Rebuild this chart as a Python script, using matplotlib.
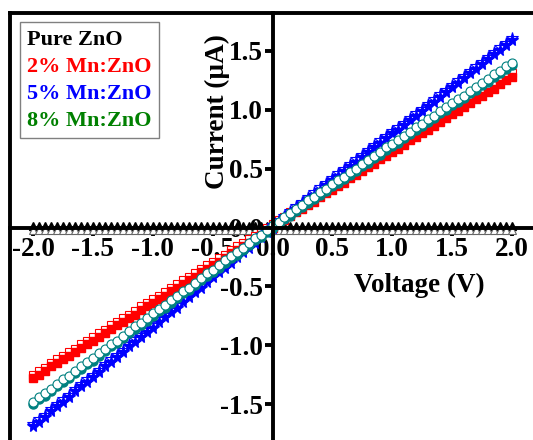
import numpy as np
import matplotlib
matplotlib.use("Agg")
import matplotlib.pyplot as plt
from matplotlib.lines import Line2D

plt.rcParams['font.family'] = ['Liberation Serif', 'DejaVu Serif']
plt.rcParams['font.weight'] = 'bold'
plt.rcParams['axes.unicode_minus'] = False

# voltage sweep, -2.0 V to 2.0 V in 0.05 V steps
voltage = np.round(np.linspace(-2.0, 2.0, 81), 2)

# current (uA), filled markers = forward sweep, open markers = reverse sweep
pure_fwd = [0.01, 0.01, 0.01, 0.01, 0.01, 0.01, 0.01, 0.01, 0.01,
            0.01, 0.01, 0.01, 0.01, 0.01, 0.01, 0.01, 0.01, 0.01,
            0.01, 0.01, 0.01, 0.01, 0.01, 0.01, 0.01, 0.01, 0.01,
            0.01, 0.01, 0.01, 0.01, 0.01, 0.01, 0.01, 0.01, 0.01,
            0.01, 0.01, 0.01, 0.01, 0.01, 0.01, 0.01, 0.01, 0.01,
            0.01, 0.01, 0.01, 0.01, 0.01, 0.01, 0.01, 0.01, 0.01,
            0.01, 0.01, 0.01, 0.01, 0.01, 0.01, 0.01, 0.01, 0.01,
            0.01, 0.01, 0.01, 0.01, 0.01, 0.01, 0.01, 0.01, 0.01,
            0.01, 0.01, 0.01, 0.01, 0.01, 0.01, 0.01, 0.01, 0.01]
pure_rev = [-0.02, -0.02, -0.02, -0.02, -0.02, -0.02, -0.02, -0.02, -0.02,
            -0.02, -0.02, -0.02, -0.02, -0.02, -0.02, -0.02, -0.02, -0.02,
            -0.02, -0.02, -0.02, -0.02, -0.02, -0.02, -0.02, -0.02, -0.02,
            -0.02, -0.02, -0.02, -0.02, -0.02, -0.02, -0.02, -0.02, -0.02,
            -0.02, -0.02, -0.02, -0.02, -0.02, -0.02, -0.02, -0.02, -0.02,
            -0.02, -0.02, -0.02, -0.02, -0.02, -0.02, -0.02, -0.02, -0.02,
            -0.02, -0.02, -0.02, -0.02, -0.02, -0.02, -0.02, -0.02, -0.02,
            -0.02, -0.02, -0.02, -0.02, -0.02, -0.02, -0.02, -0.02, -0.02,
            -0.02, -0.02, -0.02, -0.02, -0.02, -0.02, -0.02, -0.02, -0.02]

mn2_fwd = [-1.28, -1.25, -1.22, -1.18, -1.15, -1.12, -1.09, -1.06, -1.02, -0.99,
           -0.96, -0.93, -0.90, -0.86, -0.83, -0.80, -0.77, -0.74, -0.70, -0.67,
           -0.64, -0.61, -0.58, -0.54, -0.51, -0.48, -0.45, -0.42, -0.38, -0.35,
           -0.32, -0.29, -0.26, -0.22, -0.19, -0.16, -0.13, -0.10, -0.06, -0.03,
           0.00,
           0.03, 0.06, 0.10, 0.13, 0.16, 0.19, 0.22, 0.26, 0.29, 0.32,
           0.35, 0.38, 0.42, 0.45, 0.48, 0.51, 0.54, 0.58, 0.61, 0.64,
           0.67, 0.70, 0.74, 0.77, 0.80, 0.83, 0.86, 0.90, 0.93, 0.96,
           0.99, 1.02, 1.06, 1.09, 1.12, 1.15, 1.18, 1.22, 1.25, 1.28]
mn2_rev = [-1.25, -1.22, -1.19, -1.15, -1.12, -1.09, -1.06, -1.03, -0.99, -0.96,
           -0.93, -0.90, -0.87, -0.83, -0.80, -0.77, -0.74, -0.71, -0.67, -0.64,
           -0.61, -0.58, -0.55, -0.51, -0.48, -0.45, -0.42, -0.39, -0.35, -0.32,
           -0.29, -0.26, -0.23, -0.19, -0.16, -0.13, -0.10, -0.07, -0.03, 0.00,
           0.03,
           0.06, 0.09, 0.13, 0.16, 0.19, 0.22, 0.25, 0.29, 0.32, 0.35,
           0.38, 0.41, 0.45, 0.48, 0.51, 0.54, 0.57, 0.61, 0.64, 0.67,
           0.70, 0.73, 0.77, 0.80, 0.83, 0.86, 0.89, 0.93, 0.96, 0.99,
           1.02, 1.05, 1.09, 1.12, 1.15, 1.18, 1.21, 1.25, 1.28, 1.31]

mn5_fwd = [-1.69, -1.65, -1.61, -1.56, -1.52, -1.48, -1.44, -1.39, -1.35, -1.31,
           -1.27, -1.23, -1.18, -1.14, -1.10, -1.06, -1.01, -0.97, -0.93, -0.89,
           -0.85, -0.80, -0.76, -0.72, -0.68, -0.63, -0.59, -0.55, -0.51, -0.46,
           -0.42, -0.38, -0.34, -0.30, -0.25, -0.21, -0.17, -0.13, -0.08, -0.04,
           0.00,
           0.04, 0.08, 0.12, 0.16, 0.20, 0.24, 0.28, 0.32, 0.36, 0.40,
           0.44, 0.48, 0.52, 0.56, 0.60, 0.64, 0.68, 0.72, 0.76, 0.80,
           0.83, 0.87, 0.91, 0.95, 0.99, 1.03, 1.07, 1.11, 1.15, 1.19,
           1.23, 1.27, 1.31, 1.35, 1.39, 1.43, 1.47, 1.51, 1.55, 1.59]
mn5_rev = [-1.67, -1.63, -1.59, -1.54, -1.50, -1.46, -1.42, -1.37, -1.33, -1.29,
           -1.25, -1.21, -1.16, -1.12, -1.08, -1.04, -0.99, -0.95, -0.91, -0.87,
           -0.83, -0.78, -0.74, -0.70, -0.66, -0.61, -0.57, -0.53, -0.49, -0.44,
           -0.40, -0.36, -0.32, -0.28, -0.23, -0.19, -0.15, -0.11, -0.06, -0.02,
           0.02,
           0.06, 0.10, 0.14, 0.18, 0.22, 0.26, 0.30, 0.34, 0.38, 0.42,
           0.46, 0.50, 0.54, 0.58, 0.62, 0.66, 0.70, 0.74, 0.78, 0.82,
           0.85, 0.89, 0.93, 0.97, 1.01, 1.05, 1.09, 1.13, 1.17, 1.21,
           1.25, 1.29, 1.33, 1.37, 1.41, 1.45, 1.49, 1.53, 1.57, 1.61]

mn8_fwd = [-1.50, -1.46, -1.43, -1.39, -1.35, -1.31, -1.28, -1.24, -1.20, -1.16,
           -1.13, -1.09, -1.05, -1.01, -0.98, -0.94, -0.90, -0.86, -0.83, -0.79,
           -0.75, -0.71, -0.68, -0.64, -0.60, -0.56, -0.53, -0.49, -0.45, -0.41,
           -0.38, -0.34, -0.30, -0.26, -0.23, -0.19, -0.15, -0.11, -0.08, -0.04,
           0.00,
           0.03, 0.07, 0.10, 0.14, 0.17, 0.21, 0.24, 0.28, 0.31, 0.35,
           0.38, 0.41, 0.45, 0.48, 0.52, 0.55, 0.59, 0.62, 0.66, 0.69,
           0.72, 0.76, 0.79, 0.83, 0.86, 0.90, 0.93, 0.97, 1.00, 1.04,
           1.07, 1.10, 1.14, 1.17, 1.21, 1.24, 1.28, 1.31, 1.35, 1.38]
mn8_rev = [-1.48, -1.44, -1.41, -1.37, -1.33, -1.29, -1.26, -1.22, -1.18, -1.14,
           -1.11, -1.07, -1.03, -0.99, -0.96, -0.92, -0.88, -0.84, -0.81, -0.77,
           -0.73, -0.69, -0.66, -0.62, -0.58, -0.54, -0.51, -0.47, -0.43, -0.39,
           -0.36, -0.32, -0.28, -0.24, -0.21, -0.17, -0.13, -0.09, -0.06, -0.02,
           0.02,
           0.05, 0.09, 0.12, 0.16, 0.19, 0.23, 0.26, 0.30, 0.33, 0.37,
           0.40, 0.43, 0.47, 0.50, 0.54, 0.57, 0.61, 0.64, 0.68, 0.71,
           0.74, 0.78, 0.81, 0.85, 0.88, 0.92, 0.95, 0.99, 1.02, 1.06,
           1.09, 1.12, 1.16, 1.19, 1.23, 1.26, 1.30, 1.33, 1.37, 1.40]

legend_labels = ["Pure ZnO", "2% Mn:ZnO", "5% Mn:ZnO", "8% Mn:ZnO"]
legend_colors = ["black", "#ff0000", "#0000ff", "#008000"]

x_ticks = [-2.0, -1.5, -1.0, -0.5, 0.0, 0.5, 1.0, 1.5, 2.0]
y_ticks = [-1.5, -1.0, -0.5, 0.0, 0.5, 1.0, 1.5]

fig = plt.figure(figsize=(5.33, 4.4), dpi=100)
ax = fig.add_axes([10 / 533, 0.0, 523 / 533, 427 / 440])

# pure ZnO
ax.plot(voltage, pure_fwd, ls='none', marker='^', ms=6, color='black', zorder=3)
ax.plot(voltage, pure_rev, ls='none', marker='^', ms=6, mfc='white', mec='#666666', mew=0.8, zorder=3)
# 2% Mn
ax.plot(voltage, mn2_rev, ls='none', marker='s', ms=5.5, mfc='white', mec='#ff0000', mew=0.8, zorder=3)
ax.plot(voltage, mn2_fwd, ls='none', marker='s', ms=5.5, color='#ff0000', zorder=3)
# 5% Mn
ax.plot(voltage, mn5_rev, ls='none', marker='*', ms=8.5, mfc='white', mec='#0000ff', mew=0.8, zorder=3)
ax.plot(voltage, mn5_fwd, ls='none', marker='*', ms=8.5, color='#0000ff', zorder=3)
# 8% Mn
ax.plot(voltage, mn8_fwd, ls='none', marker='o', ms=6.5, color='#008080', zorder=3)
ax.plot(voltage, mn8_rev, ls='none', marker='o', ms=6.5, mfc='white', mec='#008080', mew=0.8, zorder=3)

ax.set_xlim(-2.192, 2.175)
ax.set_ylim(-1.805, 1.822)

# axes cross at the origin
ax.spines['left'].set_position(('data', 0))
ax.spines['bottom'].set_position(('data', 0))
ax.spines['right'].set_visible(False)
for s in ['left', 'bottom', 'top']:
    ax.spines[s].set_linewidth(2.8)
    ax.spines[s].set_zorder(3.5)
# outer left frame line
ax.add_line(Line2D([0, 0], [0, 1], transform=ax.transAxes, color='black', lw=2.8, clip_on=False, zorder=3.5))

ax.xaxis.set_zorder(1)
ax.yaxis.set_zorder(1)
ax.set_xticks(x_ticks)
ax.set_xticklabels([f"{t:.1f}" for t in x_ticks])
ax.set_yticks(y_ticks)
ax.set_yticklabels([f"{t:.1f}" for t in y_ticks])
ax.tick_params(axis='both', direction='out', length=6, width=2.8, labelsize=19.5, pad=1)
ax.tick_params(top=False, right=False)

ax.set_xlabel("Voltage (V)", fontsize=19.5, fontweight='bold')
ax.xaxis.set_label_coords((419 - 10) / 523, (440 - 292) / 427)
ax.xaxis.label.set_va('baseline')
ax.set_ylabel("Current (µA)", fontsize=19.5, fontweight='bold')
ax.yaxis.set_label_coords((224 - 10) / 523, (440 - 112) / 427)
ax.yaxis.label.set_va('baseline')

handles = [Line2D([], [], ls='none') for _ in legend_labels]
leg = ax.legend(handles, legend_labels, loc='upper left',
                bbox_to_anchor=(20 / 533, 1 - 22 / 440), bbox_transform=fig.transFigure,
                borderaxespad=0, handlelength=0, handletextpad=0, labelspacing=0.29,
                borderpad=0.32, fancybox=False, edgecolor='#808080', framealpha=1,
                labelcolor=legend_colors, prop={'family': 'Liberation Serif', 'weight': 'bold', 'size': 16})
leg.get_frame().set_linewidth(1.0)
leg.set_zorder(5)

fig.savefig("out.png", dpi=100)
